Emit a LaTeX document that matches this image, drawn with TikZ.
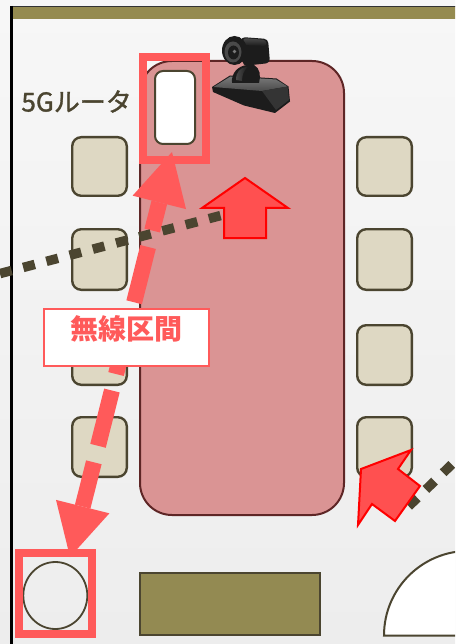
\documentclass[tikz,border=0pt]{standalone}
\usepackage{fontspec}
\newfontfamily\jp{Noto Sans CJK JP}
\newfontfamily\jpm[FakeBold=1.3]{Noto Sans CJK JP}
\definecolor{bgtop}{HTML}{F7F7F7}
\definecolor{bgbot}{HTML}{EDEDED}
\definecolor{wallbar}{HTML}{958B50}
\definecolor{tablefill}{HTML}{DA9494}
\definecolor{tableline}{HTML}{5E2626}
\definecolor{chairfill}{HTML}{DED8C3}
\definecolor{darkolive}{HTML}{4B4530}
\definecolor{hlred}{HTML}{FF5A5A}
\definecolor{arrowfill}{HTML}{FF5050}
\definecolor{arrowline}{HTML}{FF0000}
\definecolor{benchfill}{HTML}{938A52}
\definecolor{camdark}{HTML}{1C1C1C}
\definecolor{camgray}{HTML}{4A4A4A}
\definecolor{camlight}{HTML}{7A7A7A}
\tikzset{
  chair/.style={draw=darkolive, fill=chairfill, line width=2.4pt, rounded corners=9pt},
  hlbox/.style={draw=hlred, line width=7.8pt},
  blockarrow/.style={draw=arrowline, fill=arrowfill, line width=2pt, line join=miter},
  wire/.style={draw=hlred, line width=16pt, dash pattern=on 57pt off 17pt, dash phase=28pt},
  wirehead/.style={fill=hlred},
  lan/.style={draw=darkolive, line width=9.5pt, dash pattern=on 12pt off 12pt},
}
\begin{document}
\begin{tikzpicture}[x=1pt,y=-1pt]
\useasboundingbox (0,0) rectangle (455,644);
\clip (0,0) rectangle (455,644);

% floor
\shade[top color=bgtop, bottom color=bgbot] (0,0) rectangle (455,644);

% walls
\fill[wallbar] (10,6.5) rectangle (456,19);
\draw[line width=1.2pt, black!80] (10,6.5) -- (456,6.5);
\draw[line width=2.6pt, black] (11.3,6) -- (11.3,645);

% meeting table
\draw[draw=tableline, fill=tablefill, line width=2pt, rounded corners=32pt] (140,61) rectangle (344,515);

% chairs, left column
\draw[chair] (72.2,137.2) rectangle (126.8,195.8);
\draw[chair] (72.2,229.2) rectangle (126.8,289.8);
\draw[chair] (72.2,325.2) rectangle (126.8,384.8);
\draw[chair] (72.2,417.2) rectangle (126.8,476.8);
% chairs, right column
\draw[chair] (357.2,137.2) rectangle (411.8,195.8);
\draw[chair] (357.2,229.2) rectangle (411.8,289.8);
\draw[chair] (357.2,325.2) rectangle (411.8,384.8);
\draw[chair] (357.2,417.2) rectangle (411.8,476.8);

% 5G router on the table
\node[draw=darkolive, fill=white, line width=2pt, rounded corners=8pt,
      minimum width=40pt, minimum height=73pt, inner sep=0pt] (router) at (175,107.5) {};
\node[hlbox, minimum width=63pt, minimum height=103pt, inner sep=0pt] (routerbox) at (174.5,108.5) {};

% bench and door
\draw[draw=darkolive, fill=benchfill, line width=2pt] (140,573) rectangle (319.5,634.5);
\draw[draw=darkolive, fill=white, line width=2pt]
  (384,635.5) arc[start angle=180, end angle=270, radius=84.6] -- (470,635.5) -- cycle;

% terminal at the far end of the wireless link
\draw[draw=darkolive, line width=1.8pt] (55.3,595.5) ellipse[x radius=32, y radius=33.5];
\node[hlbox, minimum width=73pt, minimum height=81.5pt, inner sep=0pt] (termbox) at (55.3,593.6) {};

% wireless link
\coordinate (ttip) at (172,152);
\coordinate (tbase) at (159.3,202.4);
\coordinate (tw1) at (132.6,195.7);
\coordinate (tw2) at (186,209.1);
\coordinate (btip) at (70,557);
\coordinate (bbase) at (82.7,506.6);
\coordinate (bw1) at (56,499.9);
\coordinate (bw2) at (109.4,513.3);
\draw[wire] (tbase) -- (bbase);
\fill[wirehead] (ttip) -- (tw1) -- (tw2) -- cycle;
\fill[wirehead] (btip) -- (bw1) -- (bw2) -- cycle;

% wired LAN runs
\coordinate (lanA) at (220.5,215.6);
\coordinate (lanAend) at (-10,276.2);
\draw[lan] (lanA) -- (lanAend);
\coordinate (lanB) at (408.7,506.2);
\coordinate (lanBend) at (480,437);
\draw[lan] (lanB) -- (lanBend);

% block arrows
\draw[blockarrow] (245,178) -- (288,208) -- (266,208) -- (266,238) -- (224,238) -- (224,208) -- (202,208) -- cycle;
\draw[blockarrow] (361,469) -- (411,450) -- (398,469) -- (420,486) -- (395,521) -- (372,504) -- (358,525) -- cycle;

% label of the wireless section
\node[draw=hlred, fill=white, line width=1.5pt, minimum width=165pt, minimum height=57pt, inner sep=0pt] (wlbox) at (126.5,337.5) {};
\node[text=hlred, font=\jp\bfseries\fontsize{28}{28}\selectfont, inner sep=0pt] (wltext) at (126.5,329) {無線区間};

% router label
\node[text=darkolive, font=\jpm\fontsize{26}{26}\selectfont, inner sep=0pt, anchor=base east] (routerlabel) at (132,111.5) {5Gルータ};

% PTZ camera
\fill[camdark] (212,87) -- (230,75.5) -- (276.5,78.5) -- (288.5,86.5) -- (290,101.5) -- (275,113) -- (244,105.5) -- (213,92) -- cycle;
\shade[top color=camlight, bottom color=camgray] (213.5,87) -- (230.5,76.5) -- (276,79.5) -- (287.5,86.5) -- (262,91) -- cycle;
\fill[camgray!70!black] (262,91) -- (287.5,86.5) -- (289,100) -- (276,110) -- cycle;
\fill[camdark] (232,83) .. controls (231,73) and (238,66) .. (247,65) -- (254,65) .. controls (260,68) and (261,76) .. (259,83) -- cycle;
\shade[left color=camgray, right color=camdark] (236,80) .. controls (236,72) and (240,68) .. (246,67) -- (248,67) .. controls (244,70) and (242,75) .. (242,81) -- cycle;
\fill[camdark, rounded corners=4pt] (241,37) -- (268,39) -- (270,63) -- (243,66) -- cycle;
\shade[top color=camgray, bottom color=camdark, rounded corners=3pt] (243,38) -- (266,40) -- (267,46) -- (243,45) -- cycle;
\fill[camdark] (234.5,50.5) ellipse[x radius=12.5, y radius=14.5];
\fill[camgray] (233,52) ellipse[x radius=8.5, y radius=10.5];
\fill[camdark] (233.5,52.5) ellipse[x radius=5.5, y radius=7];
\fill[camlight] (234.5,51.5) circle[radius=1.8];
\end{tikzpicture}
\end{document}
